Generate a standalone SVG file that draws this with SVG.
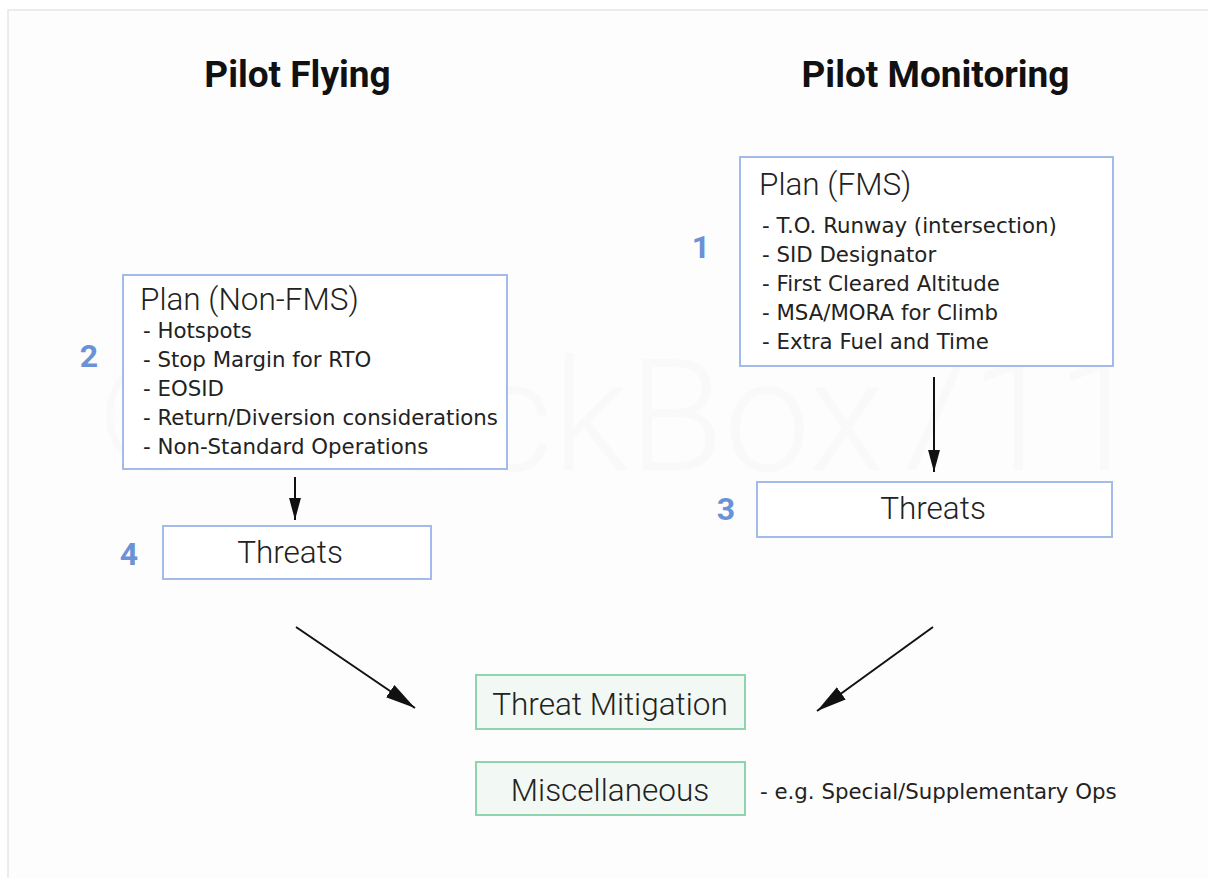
<svg xmlns="http://www.w3.org/2000/svg" width="1208" height="878" viewBox="0 0 1208 878">
  <defs>
    <style>
      .head { font-family: Roboto, "Liberation Sans", sans-serif; font-weight: 700; font-size: 37px; fill: #111; text-anchor: middle; }
      .num { font-family: Roboto, "Liberation Sans", sans-serif; font-weight: 700; font-size: 32px; fill: #6b91d6; text-anchor: middle; }
      .title { font-family: Roboto, "Liberation Sans", sans-serif; font-weight: 300; font-size: 31.5px; fill: #222; }
      .mid { text-anchor: middle; }
      .item { font-family: "DejaVu Sans", Verdana, sans-serif; font-size: 21.3px; fill: #222; }
      .bbox { fill: #ffffff; stroke: #a3bbe8; stroke-width: 2; }
      .gbox { fill: #f2f8f3; stroke: #8fd4af; stroke-width: 2; }
      .wire { stroke: #111; stroke-width: 2; fill: none; }
      .wm { font-family: Roboto, "Liberation Sans", sans-serif; font-weight: 300; font-size: 155px; fill: #f9f9f9; }
    </style>
    <marker id="ahv" viewBox="0 0 10 10" refX="10" refY="5" markerWidth="22" markerHeight="22" markerUnits="userSpaceOnUse" orient="auto">
      <path d="M0,2.3 L10,5 L0,7.7 z" fill="#111"/>
    </marker>
    <marker id="ahd" viewBox="0 0 10 10" refX="10" refY="5" markerWidth="30" markerHeight="30" markerUnits="userSpaceOnUse" orient="auto">
      <path d="M0,2.5 L10,5 L0,7.5 z" fill="#111"/>
    </marker>
  </defs>

  <rect x="0" y="0" width="1208" height="878" fill="#ffffff"/>
  <rect x="8" y="10" width="1200" height="868" fill="#fdfdfd"/>
  <path d="M8,878 V10 H1208" stroke="#e6e6e6" stroke-width="1.5" fill="none"/>

  <text class="wm" x="98" y="470">© BlackBox711</text>

  <g id="header-pf"><text class="head" x="297.5" y="87">Pilot Flying</text></g>
  <g id="header-pm"><text class="head" x="935.5" y="87">Pilot Monitoring</text></g>

  <g id="plan-fms">
    <rect class="bbox" x="740" y="157" width="373" height="209"/>
    <text class="title" x="759" y="195">Plan (FMS)</text>
    <text class="item" x="762" y="233">- T.O. Runway (intersection)</text>
    <text class="item" x="762" y="262">- SID Designator</text>
    <text class="item" x="762" y="291">- First Cleared Altitude</text>
    <text class="item" x="762" y="320">- MSA/MORA for Climb</text>
    <text class="item" x="762" y="349">- Extra Fuel and Time</text>
  </g>
  <g id="num-1"><text class="num" x="701" y="258">1</text></g>

  <g id="plan-nonfms">
    <rect class="bbox" x="123" y="275" width="384" height="194"/>
    <text class="title" x="140" y="310">Plan (Non-FMS)</text>
    <text class="item" x="143" y="338">- Hotspots</text>
    <text class="item" x="143" y="367">- Stop Margin for RTO</text>
    <text class="item" x="143" y="396">- EOSID</text>
    <text class="item" x="143" y="425">- Return/Diversion considerations</text>
    <text class="item" x="143" y="454">- Non-Standard Operations</text>
  </g>
  <g id="num-2"><text class="num" x="89" y="367">2</text></g>

  <g id="threats-pm">
    <rect class="bbox" x="757" y="482" width="355" height="55"/>
    <text class="title mid" x="933" y="519">Threats</text>
  </g>
  <g id="num-3"><text class="num" x="726" y="520">3</text></g>

  <g id="threats-pf">
    <rect class="bbox" x="163" y="526" width="268" height="53"/>
    <text class="title mid" x="290" y="563">Threats</text>
  </g>
  <g id="num-4"><text class="num" x="129" y="565">4</text></g>

  <g id="threat-mitigation">
    <rect class="gbox" x="476" y="675" width="269" height="54"/>
    <text class="title mid" x="610" y="715">Threat Mitigation</text>
  </g>

  <g id="misc">
    <rect class="gbox" x="476" y="762" width="269" height="53"/>
    <text class="title mid" x="610" y="801">Miscellaneous</text>
  </g>
  <g id="misc-note"><text class="item" x="760" y="799">- e.g. Special/Supplementary Ops</text></g>

  <g id="connectors">
    <line class="wire" x1="295" y1="477" x2="295" y2="520" marker-end="url(#ahv)"/>
    <line class="wire" x1="934" y1="377" x2="934" y2="472" marker-end="url(#ahv)"/>
    <line class="wire" x1="296" y1="627" x2="415" y2="708" marker-end="url(#ahd)"/>
    <line class="wire" x1="933" y1="627" x2="817" y2="711" marker-end="url(#ahd)"/>
  </g>
</svg>
